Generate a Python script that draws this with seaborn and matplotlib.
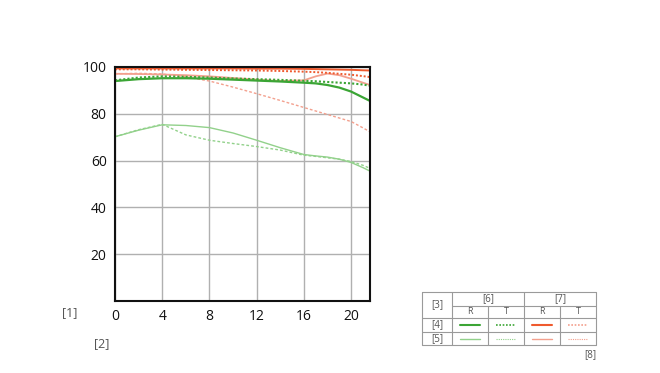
import numpy as np
import pandas as pd
import matplotlib.pyplot as plt
import seaborn as sns

# image height (mm) positions where MTF was read
x_pos = [0, 2, 4, 6, 8, 10, 12, 14, 16, 17, 18, 19, 20, 21, 21.6]

# wide open (green), 10 lp/mm and 30 lp/mm, radial / tangential
green_r10 = [94.0, 94.8, 95.2, 95.2, 95.0, 94.6, 94.2, 93.8, 93.3, 93.0, 92.3, 91.2, 89.5, 87.0, 85.5]
green_t10 = [94.3, 95.5, 96.0, 95.8, 95.5, 95.1, 94.8, 94.5, 94.1, 93.9, 93.6, 93.3, 93.0, 92.5, 92.0]
green_r30 = [70.2, 73.0, 75.3, 75.0, 74.1, 71.8, 68.7, 65.5, 62.6, 62.0, 61.5, 60.6, 59.2, 57.0, 55.5]
green_t30 = [70.2, 73.2, 75.5, 71.0, 68.7, 67.3, 66.0, 64.5, 62.3, 61.8, 61.2, 60.6, 59.6, 58.0, 56.7]

# stopped down (red)
red_r10 = [99.4, 99.4, 99.4, 99.4, 99.4, 99.4, 99.3, 99.3, 99.2, 99.1, 99.0, 98.9, 98.8, 98.6, 98.5]
red_t10 = [99.0, 99.0, 98.9, 98.8, 98.7, 98.6, 98.5, 98.3, 98.0, 97.8, 97.5, 97.1, 96.7, 96.1, 95.7]
red_r30 = [97.1, 97.0, 96.8, 96.5, 96.0, 95.3, 94.6, 94.0, 94.3, 96.0, 97.2, 96.5, 95.0, 93.3, 92.3]
red_t30 = [97.1, 97.3, 97.0, 95.8, 94.0, 91.4, 88.6, 85.7, 82.7, 81.2, 79.7, 78.2, 76.7, 74.0, 72.3]

x_ticks = [0, 4, 8, 12, 16, 20]
y_ticks = [20, 40, 60, 80, 100]

G_DARK, G_LIGHT = '#3ba535', '#92d18b'
R_DARK, R_LIGHT = '#ef5a2e', '#f3a08e'

sns.set_style('white')
plt.rcParams['font.family'] = ['Open Sans', 'DejaVu Sans']

fig = plt.figure(figsize=(6.6, 3.73), dpi=100)
ax = fig.add_axes([115 / 660, 1 - 301 / 373, 255 / 660, 234 / 373])

series = [
    (green_r30, G_LIGHT, '-', 1.0),
    (green_t30, G_LIGHT, (0, (2, 1.5)), 1.0),
    (red_t30, R_LIGHT, (0, (2, 1.5)), 1.0),
    (red_r30, R_LIGHT, '-', 1.3),
    (green_t10, G_DARK, (0, (1, 1)), 1.5),
    (green_r10, G_DARK, '-', 1.6),
    (red_t10, R_DARK, (0, (1, 1)), 1.4),
    (red_r10, R_DARK, '-', 1.4),
]
for vals, col, ls, lw in series:
    df = pd.DataFrame({'x': x_pos, 'y': vals})
    sns.lineplot(data=df, x='x', y='y', ax=ax, color=col, linestyle=ls, linewidth=lw)

ax.set_xlim(0, 21.6)
ax.set_ylim(0, 100)
ax.set_xticks(x_ticks)
ax.set_yticks(y_ticks)
ax.grid(True, color='#b0b0b0', linewidth=1)
ax.set_axisbelow(True)
ax.set_xlabel('')
ax.set_ylabel('')
ax.tick_params(length=0, labelsize=10, pad=6, colors='#111111')
for s in ax.spines.values():
    s.set_color('#111111')
    s.set_linewidth(1.5)

# overlay in pixel coordinates for labels and the legend table
ov = fig.add_axes([0, 0, 1, 1])
ov.set_xlim(0, 660)
ov.set_ylim(373, 0)
ov.axis('off')
ov.patch.set_alpha(0)

tc = '#555555'
ov.text(70, 313, '[1]', ha='center', va='center', fontsize=9, color=tc)
ov.text(102, 344, '[2]', ha='center', va='center', fontsize=9, color=tc)
ov.text(590, 355, '[8]', ha='center', va='center', fontsize=7, color=tc)

gc = '#9a9a9a'
L, R_, T, B = 422, 596, 292, 345
ov.plot([L, R_, R_, L, L], [T, T, B, B, T], color=gc, lw=0.8)
ov.plot([452, 452], [T, B], color=gc, lw=0.8)
ov.plot([524, 524], [T, B], color=gc, lw=0.8)
ov.plot([488, 488], [306, B], color=gc, lw=0.8)
ov.plot([560, 560], [306, B], color=gc, lw=0.8)
ov.plot([452, R_], [306, 306], color=gc, lw=0.8)
ov.plot([L, R_], [318, 318], color=gc, lw=0.8)
ov.plot([L, R_], [332, 332], color=gc, lw=0.8)

fs = 7
ov.text(437, 305, '[3]', ha='center', va='center', fontsize=fs, color=tc)
ov.text(488, 299, '[6]', ha='center', va='center', fontsize=fs, color=tc)
ov.text(560, 299, '[7]', ha='center', va='center', fontsize=fs, color=tc)
for cx, lab in zip([470, 506, 542, 578], ['R', 'T', 'R', 'T']):
    ov.text(cx, 312, lab, ha='center', va='center', fontsize=6.5, color=tc)
ov.text(437, 325, '[4]', ha='center', va='center', fontsize=fs, color=tc)
ov.text(437, 338.5, '[5]', ha='center', va='center', fontsize=fs, color=tc)

legend_rows = [
    (325, [(G_DARK, '-', 1.5), (G_DARK, (0, (1, 1)), 1.2), (R_DARK, '-', 1.5), (R_LIGHT, (0, (1, 1)), 1.2)]),
    (338.5, [(G_LIGHT, '-', 1.0), (G_LIGHT, (0, (1, 1)), 0.8), (R_LIGHT, '-', 1.0), (R_LIGHT, (0, (1, 1)), 0.8)]),
]
for yy, styles in legend_rows:
    for cx, (col, ls, lw) in zip([470, 506, 542, 578], styles):
        ov.plot([cx - 10, cx + 10], [yy, yy], color=col, linestyle=ls, lw=lw)

fig.savefig('out.png', dpi=100)
